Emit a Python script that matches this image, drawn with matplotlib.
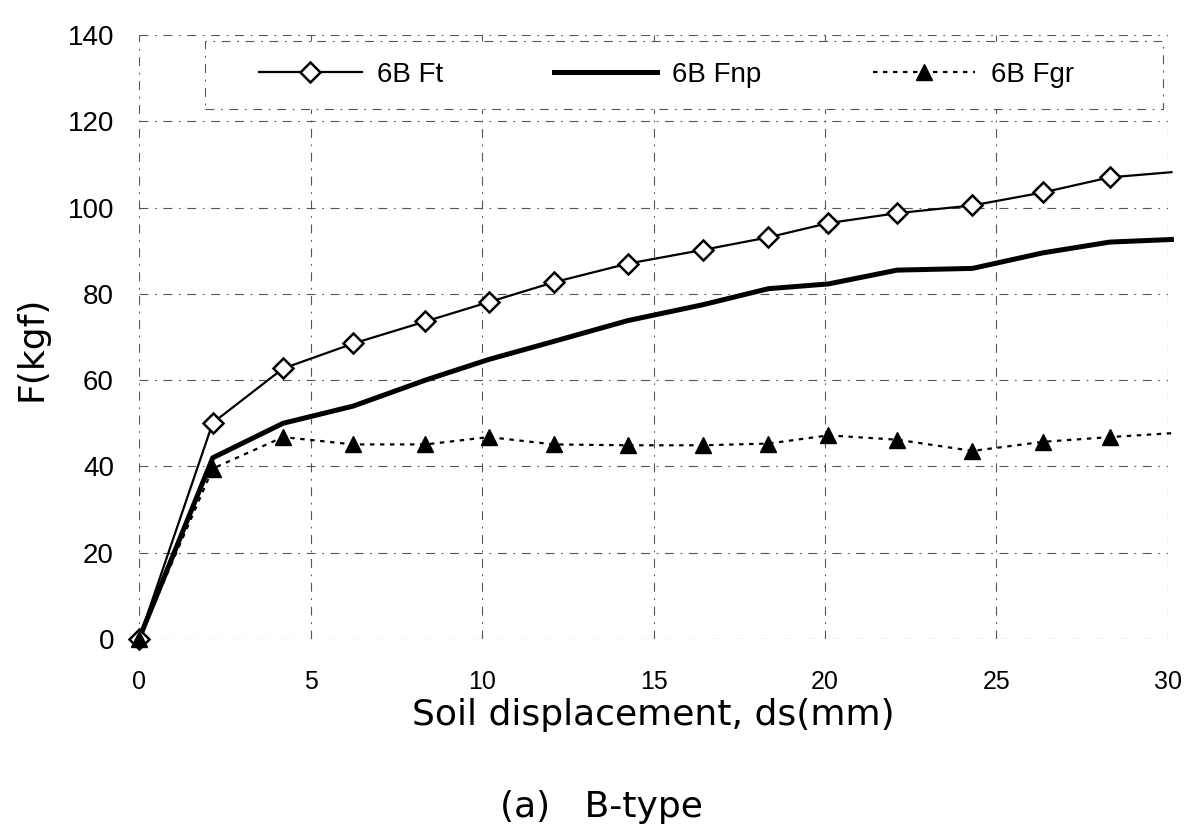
import matplotlib
matplotlib.use("Agg")
import matplotlib.pyplot as plt
from matplotlib.patches import Rectangle

plt.rcParams['font.family'] = ['Liberation Sans', 'DejaVu Sans']

# Data
disp = [0, 2.15, 4.2, 6.25, 8.35, 10.2, 12.1, 14.25, 16.45, 18.35, 20.1, 22.1, 24.3, 26.35, 28.3, 30.1]
ft = [0, 50.1, 62.7, 68.5, 73.6, 78.1, 82.7, 87.0, 90.2, 93.1, 96.4, 98.7, 100.5, 103.5, 107.0, 108.2]
fnp = [0, 42.0, 50.0, 54.0, 60.0, 64.8, 69.0, 73.8, 77.5, 81.2, 82.3, 85.5, 85.9, 89.5, 92.0, 92.6]
fgr = [0, 39.5, 46.8, 45.1, 45.1, 46.8, 45.1, 44.9, 44.9, 45.3, 47.2, 46.2, 43.6, 45.7, 46.8, 47.7]

labels = ["6B Ft", "6B Fnp", "6B Fgr"]
xticks = [0, 5, 10, 15, 20, 25, 30]
yticks = [0, 20, 40, 60, 80, 100, 120, 140]

W, H = 1186, 824
fig = plt.figure(figsize=(W / 100, H / 100), dpi=100)
ax = fig.add_axes([139/W, 1 - 639/H, (1168 - 139)/W, (639 - 35)/H])

ax.plot(disp, ft, color='black', lw=1.6, marker='D', ms=10, mfc='white',
        mec='black', mew=1.8, markevery=slice(0, 15), label=labels[0], clip_on=False, zorder=4)
ax.plot(disp, fnp, color='black', lw=3.6, label=labels[1], clip_on=False, zorder=3)
ax.plot(disp, fgr, color='black', lw=1.6, linestyle=(0, (2, 2.5)), marker='^', ms=11,
        mfc='black', mec='black', markevery=slice(0, 15), label=labels[2], clip_on=False, zorder=4)

ax.set_xlim(0, 30)
ax.set_ylim(0, 140)
ax.set_xticks(xticks)
ax.set_yticks(yticks)
ax.tick_params(axis='both', length=0)
ax.tick_params(axis='y', labelsize=20, pad=18)
ax.tick_params(axis='x', labelsize=18, pad=22)

for s in ax.spines.values():
    s.set_visible(False)
ax.grid(True, color='#555555', lw=0.8, linestyle=(0, (8, 6, 1.5, 6)))
ax.set_axisbelow(True)

ax.set_xlabel("Soil displacement, ds(mm)", fontsize=26, family=['DejaVu Sans'])
ax.xaxis.label.set_verticalalignment('baseline')
ax.xaxis.set_label_coords(0.5, -(725 - 639) / 604)
ax.set_ylabel("F(kgf)", fontsize=26, family=['DejaVu Sans'])
ax.yaxis.set_label_coords(-(139 - 48) / 1029, (639 - 348) / 604)

# legend box (dash-dot frame) and entries
box = Rectangle((205/W, 1 - 109/H), (1163 - 205)/W, 68/H, transform=fig.transFigure,
                facecolor='white', edgecolor='#555555', lw=0.8,
                linestyle=(0, (8, 6, 1.5, 6)), zorder=2)
fig.add_artist(box)
leg = fig.legend(loc='center left', bbox_to_anchor=(259/W, 1 - 75/H), ncol=3, fontsize=20,
                 frameon=False, handlelength=3.7, handletextpad=0.55, columnspacing=4.0,
                 borderpad=0, borderaxespad=0)
leg.set_zorder(3)

fig.text(601/W, 1 - 817/H, "(a)   B-type", fontsize=26, ha='center', va='baseline',
         family=['DejaVu Sans'])

fig.savefig("out.png", dpi=100)
